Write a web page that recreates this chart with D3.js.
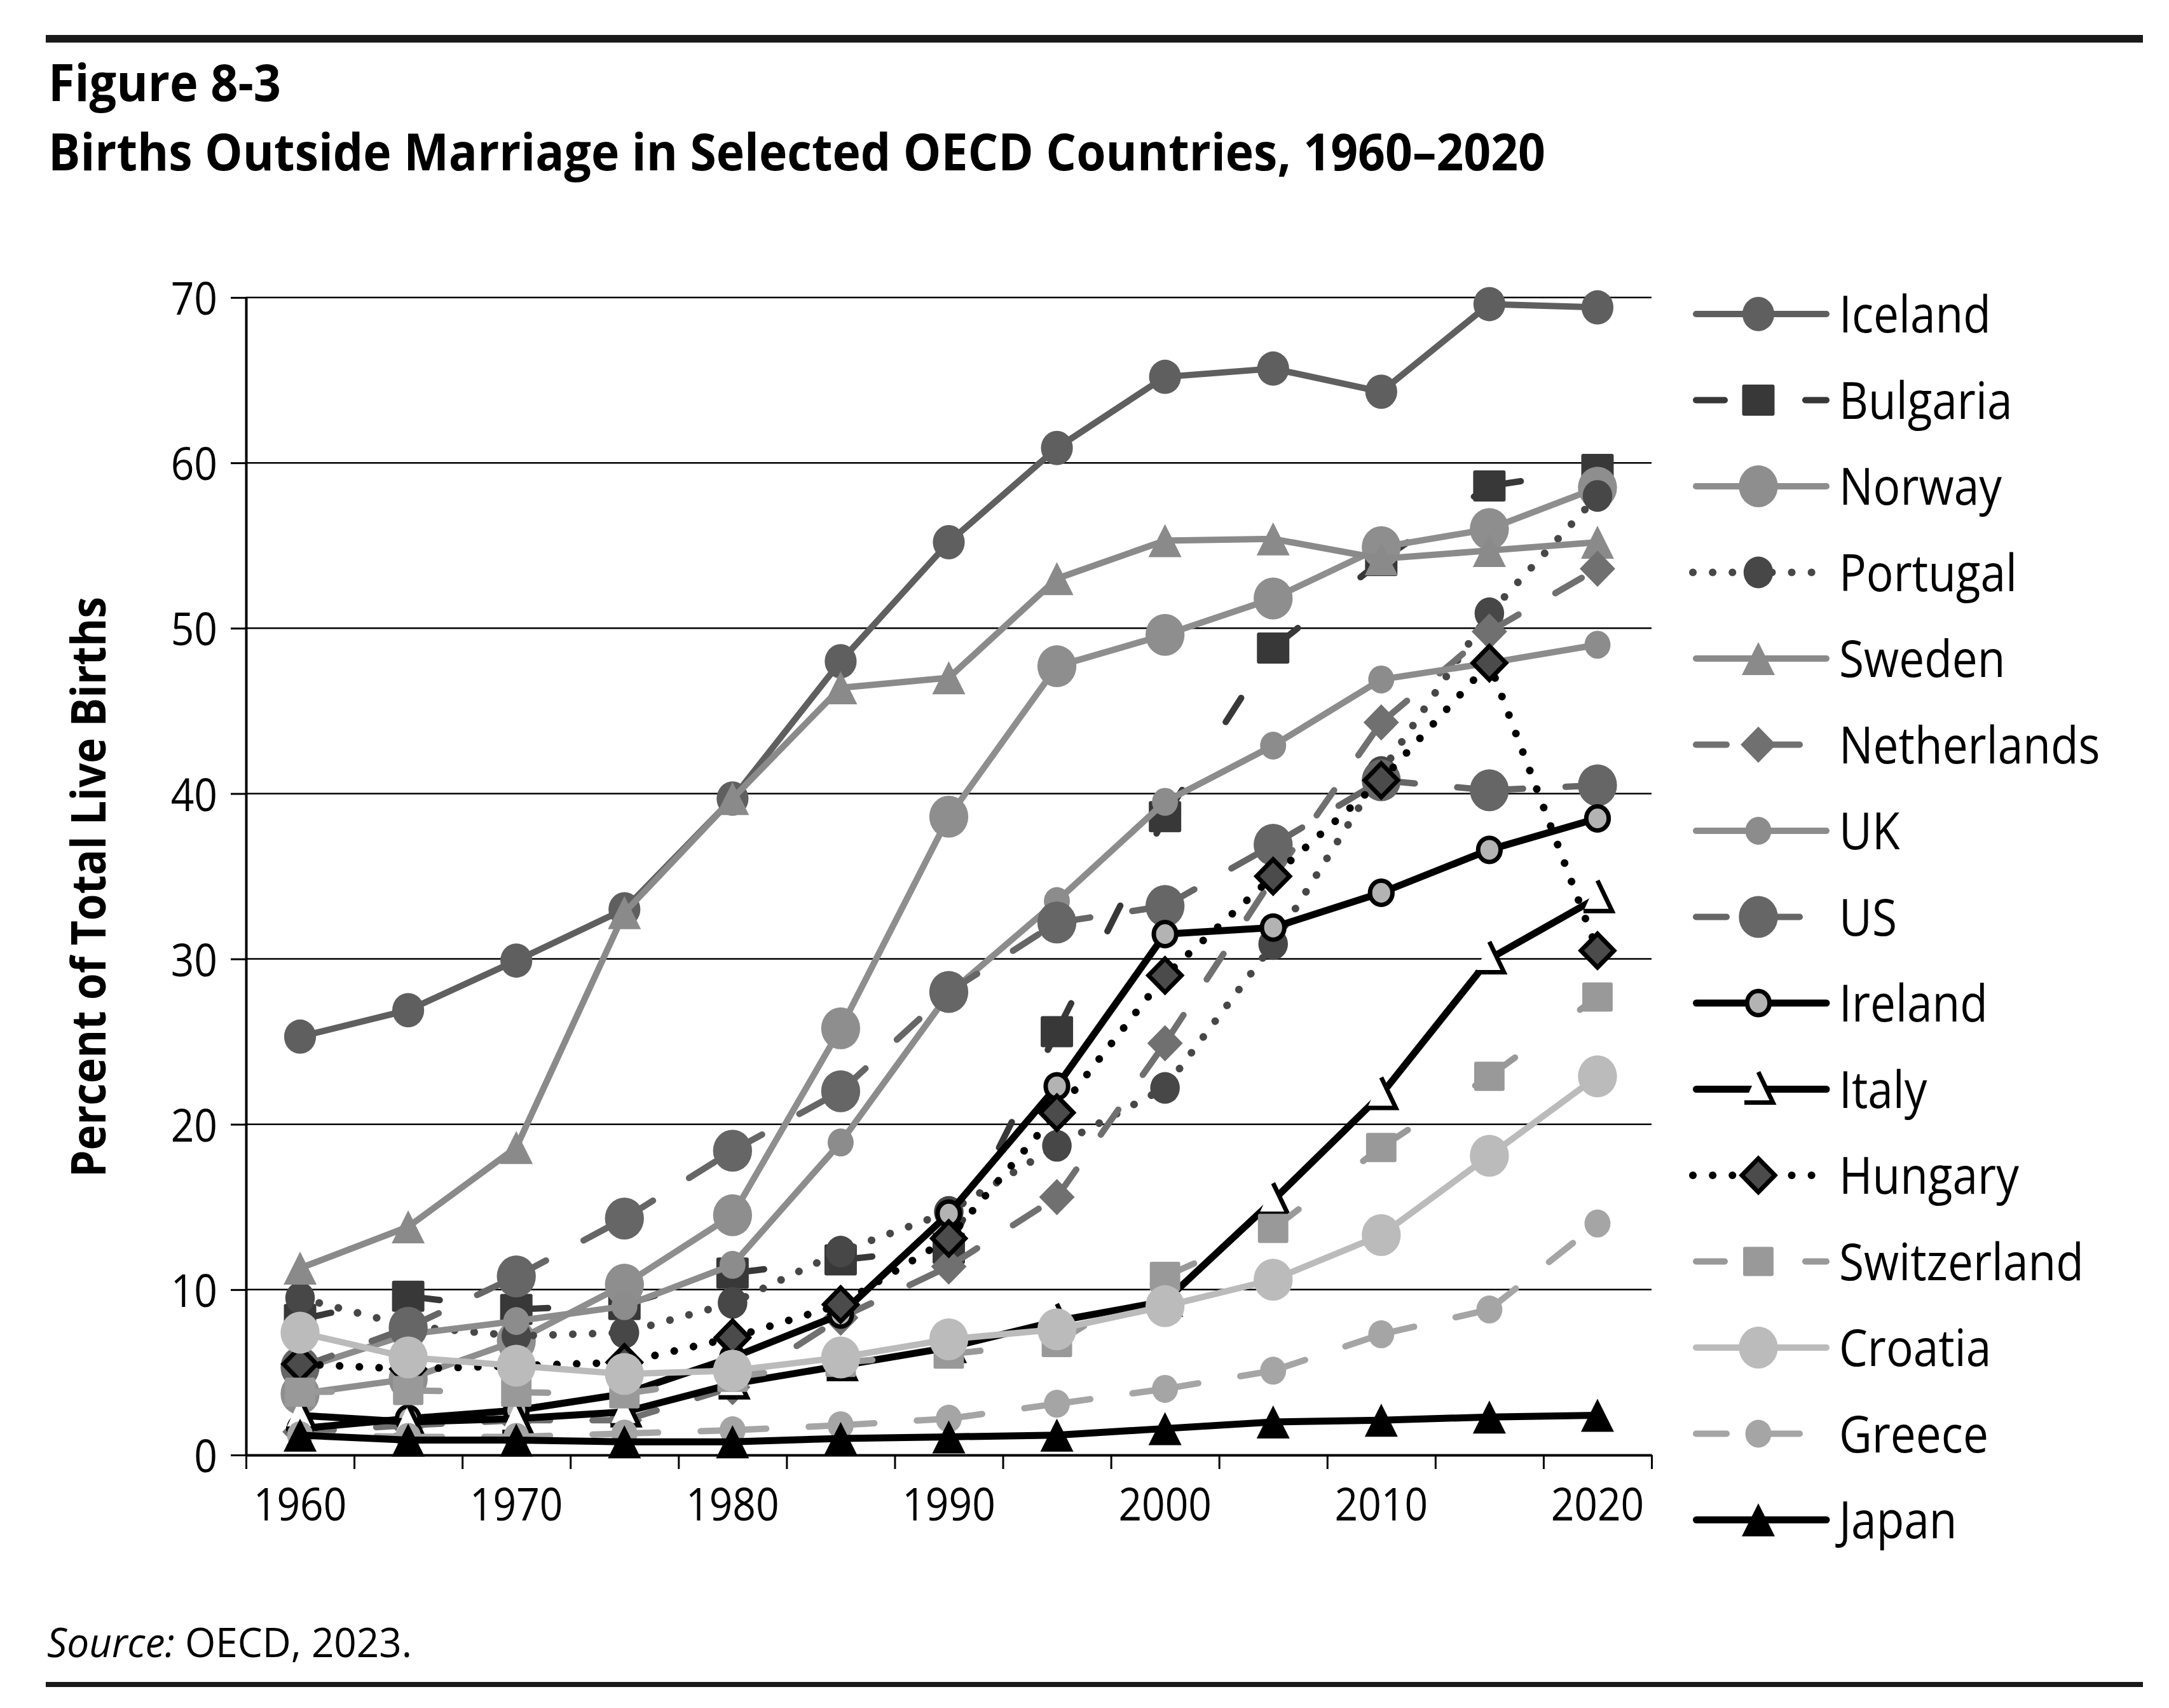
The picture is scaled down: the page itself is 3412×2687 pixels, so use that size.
<!DOCTYPE html>
<html>
<head>
<meta charset="utf-8">
<script src="https://cdnjs.cloudflare.com/ajax/libs/d3/7.8.5/d3.min.js"></script>
<style>
  body { margin: 0; background: #fff; }
  text { font-family: "Open Sans", "Noto Sans", sans-serif; fill: #000; }
</style>
</head>
<body>
<div id="chart"></div>
<script>
// years on the category axis, only every other one is labelled
var years = [1960, 1965, 1970, 1975, 1980, 1985, 1990, 1995, 2000, 2005, 2010, 2015, 2020];
var labelYears = [1960, 1970, 1980, 1990, 2000, 2010, 2020];
var yTicks = [0, 10, 20, 30, 40, 50, 60, 70];

var countries = ["Iceland", "Bulgaria", "Norway", "Portugal", "Sweden", "Netherlands", "UK", "US",
                 "Ireland", "Italy", "Hungary", "Switzerland", "Croatia", "Greece", "Japan"];

// percent of live births outside marriage
var iceland     = [25.3, 26.9, 29.9, 33.0, 39.7, 48.0, 55.2, 60.9, 65.2, 65.7, 64.3, 69.6, 69.4];
var bulgaria    = [8.2, 9.6, 8.8, 9.1, 11.0, 11.8, 12.5, 25.6, 38.6, 48.8, 54.1, 58.6, 59.6];
var norway      = [3.7, 4.6, 6.9, 10.3, 14.5, 25.8, 38.6, 47.7, 49.6, 51.8, 54.9, 56.0, 58.5];
var portugal    = [9.5, 7.8, 7.2, 7.4, 9.2, 12.3, 14.7, 18.7, 22.2, 30.9, 41.3, 50.9, 58.0];
var sweden      = [11.3, 13.8, 18.6, 32.8, 39.7, 46.4, 47.0, 53.0, 55.3, 55.4, 54.2, 54.7, 55.2];
var netherlands = [1.4, 1.8, 2.1, 2.1, 4.1, 8.3, 11.4, 15.6, 24.9, 34.9, 44.3, 49.8, 53.6];
var uk          = [5.2, 7.3, 8.1, 9.0, 11.5, 18.9, 27.9, 33.5, 39.5, 42.9, 46.9, 47.9, 49.0];
var us          = [5.3, 7.7, 10.8, 14.3, 18.4, 22.0, 28.0, 32.2, 33.2, 36.9, 40.8, 40.2, 40.5];
var ireland     = [1.6, 2.2, 2.7, 3.7, 5.9, 8.5, 14.6, 22.3, 31.5, 31.9, 34.0, 36.6, 38.5];
var italy       = [2.4, 2.0, 2.2, 2.6, 4.3, 5.4, 6.5, 8.1, 9.3, 15.4, 21.8, 30.0, 33.7];
var hungary     = [5.5, 5.2, 5.4, 5.6, 7.1, 9.1, 13.1, 20.7, 29.0, 35.0, 40.8, 47.9, 30.5];
var switzerland = [3.8, 3.9, 3.8, 3.7, 4.7, 5.6, 6.1, 6.8, 10.8, 13.7, 18.6, 22.9, 27.7];
var croatia     = [7.4, 5.9, 5.4, 4.9, 5.1, 5.9, 7.0, 7.6, 9.0, 10.6, 13.3, 18.1, 22.9];
var greece      = [1.2, 1.1, 1.1, 1.3, 1.5, 1.8, 2.2, 3.1, 4.0, 5.1, 7.3, 8.8, 14.0];
var japan       = [1.2, 0.9, 0.9, 0.8, 0.8, 1.0, 1.1, 1.2, 1.6, 2.0, 2.1, 2.3, 2.4];

var values = [iceland, bulgaria, norway, portugal, sweden, netherlands, uk, us,
              ireland, italy, hungary, switzerland, croatia, greece, japan];

// how each series looks
var styles = {
    "Iceland":     {color: "#5f5f5f", dash: "solid", marker: "circle",   size: 27},
    "Bulgaria":    {color: "#383838", dash: "long",  marker: "square",   size: 49},
    "Norway":      {color: "#8e8e8e", dash: "solid", marker: "circle",   size: 33},
    "Portugal":    {color: "#474747", dash: "dot",   marker: "circle",   size: 25},
    "Sweden":      {color: "#8a8a8a", dash: "solid", marker: "triangle", size: 52},
    "Netherlands": {color: "#707070", dash: "dash",  marker: "diamond",  size: 57},
    "UK":          {color: "#8c8c8c", dash: "solid", marker: "circle",   size: 22},
    "US":          {color: "#666666", dash: "dash",  marker: "circle",   size: 33},
    "Ireland":     {color: "#000000", dash: "solid", marker: "circle",   size: 19, fill: "#b3b3b3", stroke: "#000"},
    "Italy":       {color: "#000000", dash: "solid", marker: "italy",    size: 26},
    "Hungary":     {color: "#000000", dash: "dot",   marker: "diamond",  size: 53, fill: "#4b4b4b", stroke: "#000"},
    "Switzerland": {color: "#999999", dash: "long",  marker: "square",   size: 46},
    "Croatia":     {color: "#bbbbbb", dash: "solid", marker: "circle",   size: 33},
    "Greece":      {color: "#a5a5a5", dash: "dash",  marker: "circle",   size: 22},
    "Japan":       {color: "#000000", dash: "solid", marker: "triangle", size: 52}
};

var W = 3412, H = 2687;
var plotLeft = 387, plotRight = 2598, plotTop = 468, plotBottom = 2289;

var svg = d3.select("#chart").append("svg")
    .attr("width", W)
    .attr("height", H);

var x = d3.scaleBand()
    .domain(years)
    .range([plotLeft, plotRight]);
var cx = function(yr) { return x(yr) + x.bandwidth() / 2; };

var y = d3.scaleLinear()
    .domain([0, 70])
    .range([plotBottom, plotTop]);

// rules and headings
svg.append("rect").attr("x", 72).attr("y", 55).attr("width", 3299).attr("height", 12).attr("fill", "#1a1a1a");
svg.append("rect").attr("x", 72).attr("y", 2646).attr("width", 3299).attr("height", 8).attr("fill", "#1a1a1a");

svg.append("text")
    .attr("x", 76).attr("y", 159)
    .attr("font-size", 80).attr("font-weight", 700)
    .attr("textLength", 366).attr("lengthAdjust", "spacingAndGlyphs")
    .text("Figure 8-3");

svg.append("text")
    .attr("x", 76).attr("y", 268)
    .attr("font-size", 80).attr("font-weight", 700)
    .attr("textLength", 2355).attr("lengthAdjust", "spacingAndGlyphs")
    .text("Births Outside Marriage in Selected OECD Countries, 1960\u20132020");

var src = svg.append("text")
    .attr("x", 74).attr("y", 2607)
    .attr("font-size", 64)
    .attr("textLength", 574).attr("lengthAdjust", "spacingAndGlyphs");
src.append("tspan").attr("font-style", "italic").text("Source:");
src.append("tspan").text(" OECD, 2023.");

svg.append("text")
    .attr("transform", "translate(166," + ((plotTop + plotBottom) / 2 + 17) + ") rotate(-90)")
    .attr("text-anchor", "middle")
    .attr("font-size", 76).attr("font-weight", 700)
    .attr("textLength", 913).attr("lengthAdjust", "spacingAndGlyphs")
    .text("Percent of Total Live Births");

// gridlines
svg.append("g").selectAll("line")
    .data(yTicks.slice(1))
    .enter()
    .append("line")
    .attr("x1", plotLeft).attr("x2", plotRight)
    .attr("y1", function(d) { return y(d); })
    .attr("y2", function(d) { return y(d); })
    .attr("stroke", "#000").attr("stroke-width", 2.5);

// y axis
var yAxis = d3.axisLeft(y).tickValues(yTicks).tickSize(24).tickSizeOuter(0).tickPadding(21);
var gy = svg.append("g").attr("transform", "translate(" + plotLeft + ",0)").call(yAxis);
gy.select(".domain").attr("stroke", "#000").attr("stroke-width", 4);
gy.selectAll(".tick line").attr("stroke", "#000").attr("stroke-width", 3);
gy.selectAll(".tick text").attr("font-size", 72).attr("font-family", null).attr("dy", "0.37em").attr("class", "cond");

// x axis: ticks on category edges, labels on centres
var edges = d3.scaleLinear().domain([0, years.length]).range([plotLeft, plotRight]);
var gx = svg.append("g").attr("transform", "translate(0," + plotBottom + ")")
    .call(d3.axisBottom(edges).tickValues(d3.range(years.length + 1)).tickSize(22).tickSizeOuter(0).tickFormat(""));
gx.select(".domain").attr("stroke", "#000").attr("stroke-width", 4);
gx.selectAll(".tick line").attr("stroke", "#000").attr("stroke-width", 3);

var gxl = svg.append("g").attr("transform", "translate(0," + plotBottom + ")")
    .call(d3.axisBottom(x).tickValues(labelYears).tickSize(0).tickPadding(52));
gxl.select(".domain").remove();
gxl.selectAll(".tick text").attr("font-size", 72).attr("font-family", null).attr("class", "cond");

// line dash patterns (round caps add the line width to each dash)
function dashOf(st) {
    if (st.dash == "dash") return {arr: "48,67", off: -5, w: 10};
    if (st.dash == "long") return {arr: "45,127", off: -5, w: 10};
    if (st.dash == "dot") return {arr: "0.1,31", off: 0, w: 12};
    return {arr: null, off: 0, w: (st.color == "#000000" ? 11 : 10)};
}

function drawMarker(g, st, px, py) {
    var s = st.size;
    var fill = st.fill || st.color;
    var m;
    if (st.marker == "circle") {
        m = g.append("ellipse").attr("cx", px).attr("cy", py).attr("rx", s * 0.93).attr("ry", s);
    } else if (st.marker == "square") {
        m = g.append("rect").attr("x", px - s * 0.52).attr("y", py - s / 2)
            .attr("width", s * 1.04).attr("height", s).attr("rx", 3);
    } else if (st.marker == "diamond") {
        var h = s / 2, w = s * 0.49;
        m = g.append("path").attr("d", "M" + px + "," + (py - h) + "L" + (px + w) + "," + py +
            "L" + px + "," + (py + h) + "L" + (px - w) + "," + py + "Z");
    } else if (st.marker == "triangle") {
        var th = s / 2, tw = s * 0.5;
        m = g.append("path").attr("d", "M" + px + "," + (py - th) + "L" + (px + tw) + "," + (py + th) +
            "L" + (px - tw) + "," + (py + th) + "Z");
    } else if (st.marker == "italy") {
        // open triangle, left side not stroked
        m = g.append("path").attr("d", "M" + px + "," + (py - 27) + "L" + (px + 23) + "," + (py + 21) +
            "L" + (px - 22) + "," + (py + 21))
            .attr("fill", "#fff").attr("stroke", "#000").attr("stroke-width", 7)
            .attr("stroke-linejoin", "miter");
        return;
    }
    m.attr("fill", fill);
    if (st.stroke) m.attr("stroke", st.stroke).attr("stroke-width", 7);
}

var line = d3.line()
    .x(function(d) { return d[0]; })
    .y(function(d) { return d[1]; });

function strokeLine(g, st, pts, perSegment) {
    var dp = dashOf(st);
    var pieces = [pts];
    if (perSegment && (st.dash == "dash" || st.dash == "long")) {
        pieces = d3.pairs(pts);
    }
    pieces.forEach(function(pc) {
        var p = g.append("path")
            .attr("d", line(pc))
            .attr("fill", "none")
            .attr("stroke", st.color)
            .attr("stroke-width", dp.w)
            .attr("stroke-linejoin", "round")
            .attr("stroke-linecap", dp.arr ? "round" : "butt");
        if (dp.arr) p.attr("stroke-dasharray", dp.arr).attr("stroke-dashoffset", dp.off);
    });
}

// series
var plot = svg.append("g");
countries.forEach(function(name, i) {
    var st = styles[name];
    var g = plot.append("g").attr("class", "series");
    var pts = years.map(function(yr, j) { return [cx(yr), y(values[i][j])]; });
    strokeLine(g, st, pts, true);
    pts.forEach(function(p) { drawMarker(g, st, p[0], p[1]); });
});

// legend
var legY = d3.scaleLinear().domain([0, countries.length - 1]).range([494, 494 + 135.5 * 14]);
var leg = svg.append("g");
countries.forEach(function(name, i) {
    var st = styles[name];
    var ly = legY(i);
    var g = leg.append("g");
    var lw = dashOf(st).w;
    strokeLine(g, st, [[2663 + (st.dash == "solid" ? lw / 2 : 0), ly], [2873, ly]], false);
    g.selectAll("path").attr("stroke-linecap", "round");
    drawMarker(g, st, 2766, ly);
    g.append("text")
        .attr("x", 2893).attr("y", ly + 29)
        .attr("font-size", 80)
        .attr("class", "cond")
        .text(name);
});

// squeeze the plain labels a bit, the original face is narrower
svg.selectAll("text.cond").each(function() {
    var L = this.getComputedTextLength();
    d3.select(this).attr("textLength", L * 0.89).attr("lengthAdjust", "spacingAndGlyphs");
});
</script>
</body>
</html>
